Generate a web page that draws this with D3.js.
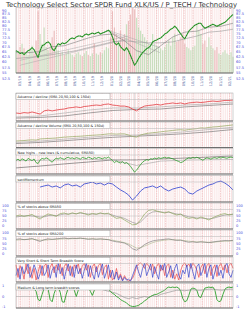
<!DOCTYPE html>
<html>
<head>
<meta charset="utf-8">
<script src="https://cdn.jsdelivr.net/npm/d3@7"></script>
<style>
body { margin: 0; background: #fff; }
svg text { font-family: "DejaVu Sans", sans-serif; }
</style>
</head>
<body>
<div id="chart"></div>
<script>
var title = "Technology Select Sector SPDR Fund XLK/US / P_TECH / Technology";

var start_date = new Date(2019, 1, 15),
    end_date = new Date(2021, 1, 12);

// weekly closes
var price = [65.6, 65.1, 64.1, 64.6, 63.6, 64.6, 65.6, 66.1, 67.2, 66.1,
  64.1, 62.2, 65.6, 68.2, 68.7, 69.8, 70.3, 69.3, 66.6, 65.6,
  67.7, 69.3, 68.7, 69.8, 69.3, 69.8, 70.9, 72.0, 72.5, 72.0,
  73.1, 73.6, 73.6, 73.1, 74.2, 74.8, 74.2, 74.8, 75.4, 74.8,
  75.4, 75.9, 74.8, 75.4, 75.9, 76.5, 77.1, 75.9, 73.1, 69.8,
  68.7, 69.8, 67.7, 66.6, 65.6, 67.2, 65.6, 63.2, 60.8, 58.5,
  59.8, 61.7, 63.2, 64.6, 65.6, 66.6, 67.2, 68.2, 70.3, 70.9,
  71.4, 72.0, 72.5, 73.6, 74.8, 75.4, 76.5, 77.7, 78.3, 79.5,
  78.3, 76.5, 74.8, 73.1, 72.0, 74.2, 76.5, 77.7, 78.9, 80.2,
  80.8, 81.4, 81.4, 79.5, 78.3, 78.9, 79.5, 80.2, 80.8, 80.2,
  79.5, 80.2, 80.8, 81.4, 82.0, 83.3, 84.6, 85.9, 87.2];
var price_sma50 = [64.6, 64.6, 65.1, 67.7, 68.2, 70.3, 72.5, 74.2, 74.8, 70.9,
  65.6, 63.6, 68.2, 73.1, 75.9, 76.5, 78.9, 79.5, 81.4];
var price_sma200 = [61.7, 62.2, 62.7, 63.6, 64.6, 65.6, 67.2, 68.7, 70.3, 70.9,
  70.3, 69.8, 69.8, 70.3, 72.0, 73.6, 75.9, 76.5, 77.7];
var trend_starts = ["2019-02-28", "2019-02-28", "2019-12-19", "2019-12-19"];
var trend_ends = ["2020-02-25", "2020-02-25", "2020-06-12", "2020-06-12"];
var trend_from = [58.5, 60.8, 77.1, 76.5];
var trend_to = [72.0, 73.6, 67.2, 64.6];
var volume = [35, 30, 40, 45, 38, 30, 28, 35, 42, 30, 50,
  95, 60, 45, 70, 40, 35, 38, 55, 65, 42,
  35, 30, 32, 28, 30, 35, 30, 28, 25, 30, 32, 28, 26, 30, 34, 28, 26, 30, 45, 30,
  28, 32, 30, 35, 40, 38, 55, 95, 70, 60,
  50, 65, 55, 60, 75, 80, 90, 100, 98, 85,
  70, 65, 60, 55, 50, 45, 40, 60, 45, 42,
  40, 38, 35, 40, 45, 50, 42, 55, 60, 48,
  50, 55, 60, 45, 40, 38, 35, 40, 42, 75,
  65, 60, 45, 50, 40, 55, 42, 38, 35, 40,
  30, 28, 32, 35, 30, 28, 32, 25];
var price_ticks = [90, 87.5, 85, 82.5, 80, 77.5, 75, 72.5, 70, 67.5, 65, 62.5, 60, 57.5, 55, 52.5];
var pct_ticks = [100, 75, 50, 25, 0];
var score_ticks = [1, 0, -1];

var ad_line = [38, 36, 40, 38, 43, 38, 33, 48, 52, 48,
  52, 55, 57, 62, 64, 67, 64, 69, 71, 74,
  76, 74, 79, 81, 76, 74, 71, 71, 67, 57,
  48, 62, 71, 74, 76, 79, 76, 81, 83, 86,
  83, 86, 81, 86, 88, 90, 88, 90, 93, 95,
  93, 95, 98, 98, 100];
var ad_sma_a = [19, 24, 38, 52, 62, 62, 67, 76, 81, 90];
var ad_sma_b = [14, 17, 24, 38, 50, 55, 57, 67, 74, 81];

var adv_line = [26, 27, 28, 30, 31, 30, 35, 36, 37, 38,
  39, 41, 43, 44, 45, 46, 47, 48, 50, 51,
  52, 53, 55, 57, 57, 56, 57, 57, 52, 46,
  43, 52, 57, 60, 62, 64, 66, 68, 70, 72,
  74, 75, 73, 76, 78, 80, 83, 82, 85, 87,
  88, 90, 92, 94, 96];
var adv_sma_a = [20, 26, 34, 42, 50, 52, 58, 66, 76, 86];
var adv_sma_b = [15, 20, 27, 35, 42, 47, 52, 58, 66, 76];

var nhnl = [72, 78, 70, 80, 75, 68, 82, 76, 71, 79,
  60, 55, 74, 82, 78, 85, 80, 70, 62, 75,
  83, 79, 86, 81, 77, 84, 88, 82, 85, 80,
  86, 83, 78, 87, 84, 81, 88, 85, 79, 86,
  82, 87, 84, 80, 86, 83, 89, 81, 70, 60,
  68, 62, 58, 65, 55, 60, 52, 40, 25, 10,
  20, 35, 50, 62, 70, 75, 72, 80, 78, 84,
  80, 86, 82, 85, 88, 84, 87, 83, 80, 75,
  70, 66, 60, 64, 72, 80, 85, 82, 87, 84,
  88, 83, 78, 72, 80, 85, 82, 78, 84, 86,
  82, 87, 84, 88, 85, 83, 87, 89, 86];
var nhnl_cum = [32, 42, 53, 63, 74, 74, 79, 84, 89, 95];
var nhnl_sma = [70, 72, 74, 76, 75, 45, 68, 73, 75, 76];

var momentum = [null, null, null, null, null, null,
  68, 73, 77, 68, 73, 64, 77, 82, 73, 77,
  68, 82, 86, 91, 82, 86, 77, 86, 82, 68,
  55, 45, 32, 9, 27, 50, 64, 68, 73, 64,
  73, 59, 50, 59, 64, 68, 59, 41, 36, 50,
  59, 68, 77, 82, 91, 95, 86, 73, 55];

var above50 = [50, 55, 48, 52, 58, 45, 35, 50, 60, 55,
  48, 62, 65, 58, 66, 60, 68, 62, 55, 63,
  58, 66, 60, 64, 50, 38, 42, 30, 18, 6,
  8, 30, 60, 78, 82, 75, 70, 65, 72, 62,
  55, 60, 45, 38, 42, 35, 45, 38, 30, 42,
  50, 58, 62, 55, 60];
var above50_avg = [45, 48, 50, 52, 50, 48, 44, 46, 52, 54,
  52, 56, 60, 60, 62, 62, 64, 62, 60, 60,
  60, 62, 62, 60, 55, 48, 44, 38, 28, 18,
  12, 20, 40, 60, 70, 72, 70, 68, 68, 65,
  60, 58, 52, 46, 44, 40, 40, 38, 36, 38,
  44, 50, 55, 57, 58];
var above200 = [70, 72, 68, 70, 74, 66, 60, 68, 72, 70,
  72, 74, 76, 73, 75, 74, 76, 73, 70, 72,
  70, 72, 70, 68, 62, 58, 56, 52, 42, 25,
  18, 30, 45, 55, 62, 66, 68, 70, 72, 68,
  65, 66, 60, 56, 58, 55, 58, 56, 54, 57,
  60, 62, 64, 63, 65];
var above200_avg = [66, 68, 69, 70, 70, 69, 66, 66, 68, 69,
  70, 71, 72, 72, 73, 73, 74, 73, 72, 72,
  71, 71, 70, 69, 66, 62, 58, 54, 48, 38,
  28, 30, 38, 46, 54, 60, 63, 66, 68, 68,
  67, 66, 64, 61, 59, 58, 58, 57, 56, 56,
  58, 60, 61, 62, 63];

var vshort_score = [90, 20, 85, 60, 10, 95, 40, 80, 15, 70,
  5, 50, 90, 30, 85, 95, 20, 75, 100, 45,
  90, 60, 95, 30, 80, 100, 55, 85, 25, 90,
  70, 95, 40, 85, 100, 60, 90, 20, 80, 95,
  50, 85, 100, 35, 75, 90, 10, 60, 5, 20,
  70, 15, 40, 5, 30, 10, 0, 5, 15, 40,
  80, 95, 100, 90, 70, 100, 85, 60, 95, 40,
  80, 100, 55, 90, 30, 85, 95, 20, 60, 10,
  40, 5, 60, 90, 100, 80, 95, 70, 100, 85,
  60, 20, 75, 95, 40, 85, 100, 30, 70, 90,
  25, 80, 100, 60, 90, 45, 85, 100, 70];
var short_score = [30, 70, 10, 80, 40, 60, 95, 20, 50, 90,
  60, 10, 40, 85, 30, 50, 90, 15, 60, 80,
  20, 100, 40, 75, 10, 60, 95, 30, 80, 20,
  90, 40, 70, 15, 60, 100, 25, 85, 40, 10,
  80, 20, 60, 95, 15, 50, 90, 20, 60, 10,
  50, 5, 30, 0, 20, 5, 10, 0, 30, 60,
  90, 50, 20, 70, 100, 30, 60, 95, 20, 80,
  40, 10, 90, 60, 100, 20, 50, 85, 15, 70,
  95, 30, 10, 60, 40, 90, 20, 100, 50, 10,
  80, 95, 30, 60, 100, 20, 70, 90, 10, 50,
  90, 30, 60, 15, 80, 100, 40, 20, 60];

var medium_score = [0.8, 0.9, 0.85, 0.9, 0.8, 0.9, 0.85, 0.9, 0.8, 0.7,
  0.5, -0.3, -0.4, 0.2, 0.8, 0.85, 0.7, -0.3, -0.5, 0.3,
  0.8, 0.85, 0.4, -0.5, -0.55, 0.2, 0.8, 0.9, 0.85, 0.6,
  0.0, 0.6, 0.85, 0.9, 0.9, 0.85, 0.9, 0.5, 0.1, 0.6,
  0.9, 0.9, 0.85, 0.9, 0.85, 0.8, 0.7, 0.5, 0.3, 0.2,
  0.0, -0.1, -0.3, -0.4, -0.5, -0.6, -0.8, -0.9, -0.95, -0.95,
  -0.9, -0.85, -0.7, -0.6, -0.4, -0.3, -0.1, 0.0, 0.1, 0.2,
  0.2, 0.3, 0.4, 0.5, 0.6, 0.8, 0.9, 0.85, 0.9, 0.85,
  0.9, 0.8, 0.5, -0.2, -0.5, -0.4, 0.1, 0.7, 0.8, 0.75,
  0.6, 0.0, -0.1, 0.4, 0.8, 0.85, 0.9, 0.85, 0.9, 0.6,
  -0.3, -0.5, -0.4, 0.2, 0.7, 0.85, 0.9, 0.85, 0.9];
var long_score = [0.75, 0.78, 0.8, 0.76, 0.74, 0.7, 0.65, 0.7, 0.75, 0.72,
  0.7, 0.74, 0.72, 0.7, 0.76, 0.78, 0.8, 0.78, 0.76, 0.8, 0.78,
  0.7, 0.6, 0.5, 0.4, 0.3, 0.1, -0.1, -0.2, -0.1, -0.2,
  -0.1, 0.0, -0.1, 0.1, 0.0, 0.2, 0.3, 0.4, 0.5, 0.6,
  0.6, 0.55, 0.6, 0.65, 0.6, 0.6, 0.65, 0.7, 0.7, 0.65,
  0.6, 0.65, 0.7, 0.7];

var panel_labels = [
  "Advance / decline (SMA 20,50,100 & 150d)",
  "Advance / decline Volume (SMA 20,50,100 & 150d)",
  "New highs - new lows (& cumulative, SMA50)",
  "sectMomentum",
  "% of stocks above SMA50",
  "% of stocks above SMA200",
  "Very Short & Short Term Breadth Score",
  "Medium & Long term breadth scores"
];

var W = 250, H = 313;
var left = 16, right = 233;
var axis_color = '#4b4bd8';

var svg = d3.select('#chart').append('svg')
  .attr('width', W)
  .attr('height', H);

var x = d3.scaleTime().domain([start_date, end_date]).range([left, right]);

function series(values) {
  var n = values.length;
  var step = (end_date - start_date) / (n - 1);
  return values.map((v, i) => ({ date: new Date(+start_date + i * step), value: v }));
}

function draw_line(g, y, values, color, width, dash) {
  var line = d3.line()
    .defined(d => d.value != null)
    .x(d => x(d.date))
    .y(d => y(d.value));
  var p = g.append('path')
    .datum(series(values))
    .attr('fill', 'none')
    .attr('stroke', color)
    .attr('stroke-width', width)
    .attr('stroke-linejoin', 'round')
    .attr('d', line);
  if (dash) p.attr('stroke-dasharray', dash);
  return p;
}

function draw_grid(top, bottom) {
  var g = svg.append('g').attr('class', 'grid');
  g.append('g').selectAll('line')
    .data(x.ticks(d3.timeWeek.every(1)))
    .join('line')
    .attr('x1', d => x(d)).attr('x2', d => x(d))
    .attr('y1', top).attr('y2', bottom)
    .attr('stroke', '#f6d9d9')
    .attr('stroke-width', 0.7);
  g.append('g').selectAll('line')
    .data(x.ticks(d3.timeMonth.every(1)))
    .join('line')
    .attr('x1', d => x(d)).attr('x2', d => x(d))
    .attr('y1', top).attr('y2', bottom)
    .attr('stroke', '#eaa4a4')
    .attr('stroke-width', 0.5)
    .attr('stroke-dasharray', '1.5,1');
}

function draw_frame(top, bottom, label) {
  var g = svg.append('g').attr('class', 'frame');
  g.append('rect')
    .attr('x', left).attr('y', top)
    .attr('width', right - left).attr('height', bottom - top)
    .attr('fill', 'none')
    .attr('stroke', '#a0a0a0')
    .attr('stroke-width', 0.5);
  g.append('line')
    .attr('x1', left).attr('x2', right)
    .attr('y1', bottom).attr('y2', bottom)
    .attr('stroke', '#555')
    .attr('stroke-width', 0.8);
  if (!label) return;
  g.append('line')
    .attr('x1', left + 94).attr('x2', right)
    .attr('y1', top + 6.5).attr('y2', top + 6.5)
    .attr('stroke', '#b5b5b5')
    .attr('stroke-width', 0.5);
  g.append('rect')
    .attr('x', left).attr('y', top + 0.5)
    .attr('width', 94).attr('height', 6)
    .attr('fill', '#fff')
    .attr('stroke', '#8a8a8a')
    .attr('stroke-width', 0.4);
  g.append('text')
    .attr('x', left + 1.5).attr('y', top + 5)
    .attr('font-size', 3.4)
    .attr('fill', '#222')
    .text(label);
}

function side_axes(y, ticks) {
  [2, right + 3].forEach(pos => {
    svg.append('g').selectAll('text')
      .data(ticks)
      .join('text')
      .attr('x', pos)
      .attr('y', d => y(d))
      .attr('dy', '0.35em')
      .attr('font-size', 3.6)
      .attr('fill', axis_color)
      .text(d => d);
  });
}

// ---- title
svg.append('text')
  .attr('x', 6).attr('y', 7)
  .attr('font-size', 6.8)
  .attr('textLength', 231)
  .attr('lengthAdjust', 'spacingAndGlyphs')
  .attr('fill', '#333')
  .text(title);

// ---- panel geometry
var panels = [
  { top: 7.5, bottom: 73 },
  { top: 93, bottom: 121 },
  { top: 122, bottom: 147.5 },
  { top: 148.5, bottom: 174 },
  { top: 175.5, bottom: 202 },
  { top: 203, bottom: 229 },
  { top: 230, bottom: 256 },
  { top: 257, bottom: 282 },
  { top: 283.5, bottom: 308 }
];

panels.forEach(p => draw_grid(p.top, p.bottom));

// low marker
var low_date = series(price)[d3.minIndex(price)].date;
svg.append('line')
  .attr('x1', x(low_date)).attr('x2', x(low_date))
  .attr('y1', 93).attr('y2', 308)
  .attr('stroke', '#cfcfcf')
  .attr('stroke-width', 0.6);

// ---- price + volume
var yp = d3.scaleLog().domain([52.5, 90]).range([79, 10.5]);
var yv = d3.scaleLinear().domain([0, 100]).range([73, 8]);
var gp = svg.append('g').attr('class', 'price');

gp.append('g').selectAll('rect')
  .data(series(volume))
  .join('rect')
  .attr('x', d => x(d.date) - 0.6)
  .attr('width', 1.2)
  .attr('y', d => yv(d.value))
  .attr('height', d => yv(0) - yv(d.value))
  .attr('fill', (d, i) => (i > 0 && price[i] < price[i - 1]) ? '#e6a9a9' : '#b4d8ab')
  .attr('opacity', 0.7);

trend_starts.forEach((s, i) => {
  gp.append('line')
    .attr('x1', x(new Date(s))).attr('y1', yp(trend_from[i]))
    .attr('x2', x(new Date(trend_ends[i]))).attr('y2', yp(trend_to[i]))
    .attr('stroke', '#aaa')
    .attr('stroke-width', 0.5);
});
draw_line(gp, yp, price_sma200, '#9a9a9a', 0.6);
draw_line(gp, yp, price_sma50, '#7d7d7d', 0.6);
draw_line(gp, yp, price, '#33aa33', 1.1);
draw_line(gp, yp, price, '#1c301c', 0.5, '1,1.5');

side_axes(yp, price_ticks);

svg.append('g').selectAll('text')
  .data(x.ticks(d3.timeMonth.every(1)))
  .join('text')
  .attr('transform', d => `translate(${ x(d) + 1.2 }, 76) rotate(-90)`)
  .attr('text-anchor', 'end')
  .attr('font-size', 3.6)
  .attr('fill', '#4a5a9a')
  .text(d3.timeFormat('%m/%y'));

draw_frame(panels[0].top, panels[0].bottom);

// ---- advance / decline
var y1 = d3.scaleLinear().domain([0, 100]).range([121, 100]);
var g1 = svg.append('g');
draw_line(g1, y1, ad_sma_b, '#666', 0.6);
draw_line(g1, y1, ad_sma_a, '#a5a5a5', 0.6);
draw_line(g1, y1, ad_line, '#e23a3f', 0.8);
draw_frame(panels[1].top, panels[1].bottom, panel_labels[0]);

// ---- advance / decline volume
var y2 = d3.scaleLinear().domain([0, 100]).range([147, 124]);
var g2 = svg.append('g');
draw_line(g2, y2, adv_sma_b, '#666', 0.6);
draw_line(g2, y2, adv_sma_a, '#a5a5a5', 0.6);
draw_line(g2, y2, adv_line, '#9fae6e', 0.8);
draw_frame(panels[2].top, panels[2].bottom, panel_labels[1]);

// ---- new highs - new lows
var y3 = d3.scaleLinear().domain([0, 100]).range([174, 155]);
var g3 = svg.append('g');
draw_line(g3, y3, nhnl_cum, '#555', 0.6);
draw_line(g3, y3, nhnl_sma, '#a0a0a0', 0.6);
draw_line(g3, y3, nhnl, '#2a9a2a', 0.8);
draw_frame(panels[3].top, panels[3].bottom, panel_labels[2]);

// ---- momentum
var y4 = d3.scaleLinear().domain([0, 100]).range([202, 180]);
var g4 = svg.append('g');
draw_line(g4, y4, momentum, '#2b3fd0', 0.8);
draw_frame(panels[4].top, panels[4].bottom, panel_labels[3]);

// ---- % above SMA50
var y5 = d3.scaleLinear().domain([0, 100]).range([226, 206]);
var g5 = svg.append('g');
g5.append('line')
  .attr('x1', left).attr('x2', right)
  .attr('y1', y5(50)).attr('y2', y5(50))
  .attr('stroke', '#bbb').attr('stroke-width', 0.5);
draw_line(g5, y5, above50_avg, '#8c8c8c', 0.6);
draw_line(g5, y5, above50, '#8fa860', 0.7);
side_axes(y5, pct_ticks);
draw_frame(panels[5].top, panels[5].bottom, panel_labels[4]);

// ---- % above SMA200
var y6 = d3.scaleLinear().domain([0, 100]).range([254, 233]);
var g6 = svg.append('g');
draw_line(g6, y6, above200_avg, '#a9b58b', 0.6);
draw_line(g6, y6, above200, '#707070', 0.6);
side_axes(y6, pct_ticks);
draw_frame(panels[6].top, panels[6].bottom, panel_labels[5]);

// ---- very short & short
var y7 = d3.scaleLinear().domain([0, 100]).range([281, 263]);
var g7 = svg.append('g');
draw_line(g7, y7, vshort_score, '#ec5a5a', 0.8);
draw_line(g7, y7, short_score, '#3344cc', 0.7);
draw_frame(panels[7].top, panels[7].bottom, panel_labels[6]);

// ---- medium & long
var y8 = d3.scaleLinear().domain([-1, 1]).range([307, 286]);
var g8 = svg.append('g');
g8.append('line')
  .attr('x1', left).attr('x2', right)
  .attr('y1', y8(0)).attr('y2', y8(0))
  .attr('stroke', '#999').attr('stroke-width', 0.5);
draw_line(g8, y8, long_score, '#9a9a9a', 0.7);
draw_line(g8, y8, medium_score, '#2ca02c', 0.9);
side_axes(y8, score_ticks);
draw_frame(panels[8].top, panels[8].bottom, panel_labels[7]);
</script>
</body>
</html>
